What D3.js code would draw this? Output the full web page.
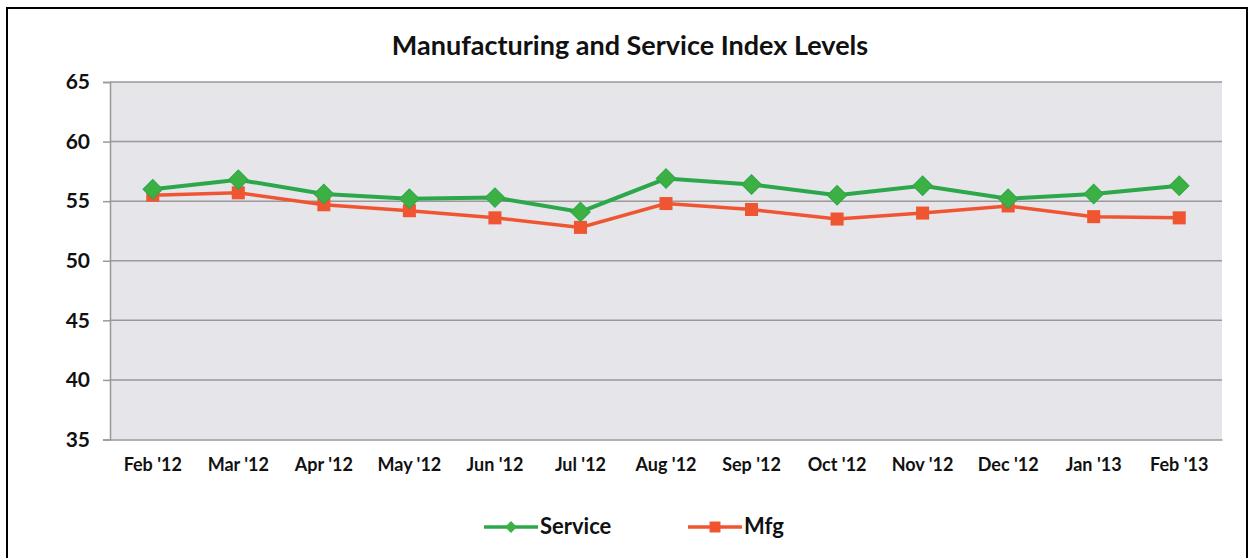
<!DOCTYPE html>
<html><head><meta charset="utf-8">
<script src="https://cdn.jsdelivr.net/npm/d3@7"></script>
<style>body{margin:0;background:#fff;}svg{display:block;}</style>
</head><body>
<svg id="c" width="1249" height="558"></svg>
<script>
const categories = ["Feb '12","Mar '12","Apr '12","May '12","Jun '12","Jul '12","Aug '12","Sep '12","Oct '12","Nov '12","Dec '12","Jan '13","Feb '13"];
const serviceValues = [56.0,56.8,55.6,55.2,55.3,54.1,56.9,56.4,55.5,56.3,55.2,55.6,56.3];
const mfgValues = [55.5,55.7,54.7,54.2,53.6,52.8,54.8,54.3,53.5,54.0,54.6,53.7,53.6];
const yTicks = [35,40,45,50,55,60,65];
const seriesNames = ["Service","Mfg"];

const svg = d3.select("#c");
const font = "Lato, 'Open Sans', sans-serif";
const m = {l:110, r:1222, t:82, b:439.5};

svg.append("rect").attr("x",7).attr("y",8).attr("width",1240).attr("height",560)
  .attr("fill","none").attr("stroke","#000").attr("stroke-width",2);

svg.append("text").attr("x",630).attr("y",55).attr("text-anchor","middle")
  .attr("font-family",font).attr("font-weight","bold").attr("font-size",27)
  .attr("fill","#111").text("Manufacturing and Service Index Levels");

const x = d3.scaleBand().domain(categories).range([m.l,m.r]);
const y = d3.scaleLinear().domain([35,65]).range([m.b,m.t]);

svg.append("rect").attr("x",m.l).attr("y",m.t).attr("width",m.r-m.l).attr("height",m.b-m.t).attr("fill","#e5e5ea");

const ya = svg.append("g").attr("transform",`translate(${m.l},0)`)
  .call(d3.axisLeft(y).tickValues(yTicks).tickSize(7).tickPadding(13));
ya.select(".domain").attr("stroke","#999").attr("stroke-width",1.5);
ya.selectAll(".tick line").attr("stroke","#999").attr("stroke-width",1.5);
ya.selectAll(".tick text").attr("font-family",font).attr("font-weight","bold").attr("font-size",21).attr("fill","#111");

svg.append("g").selectAll("line").data(yTicks.filter(d=>d>35)).join("line")
  .attr("x1",m.l).attr("x2",m.r).attr("y1",d=>y(d)).attr("y2",d=>y(d))
  .attr("stroke","#999").attr("stroke-width",1.5);

const xa = svg.append("g").attr("transform",`translate(0,${m.b})`)
  .call(d3.axisBottom(x).tickSize(0).tickPadding(19));
xa.select(".domain").attr("stroke","#999").attr("stroke-width",1.5);
xa.selectAll(".tick text").attr("font-family",font).attr("font-weight","bold").attr("font-size",18).attr("fill","#111");

const cx = d => x(d)+x.bandwidth()/2;
const green = "#2ca84a", greenM = "#3cb043", red = "#f05532";

const line = d3.line().x((d,i)=>cx(categories[i])).y(d=>y(d));
svg.append("path").datum(mfgValues).attr("d",line).attr("fill","none").attr("stroke",red).attr("stroke-width",3.5);
svg.append("path").datum(serviceValues).attr("d",line).attr("fill","none").attr("stroke",green).attr("stroke-width",4);

const sq = d3.symbol().type(d3.symbolSquare).size(170);
const dia = d3.symbol().type(d3.symbolSquare).size(190);
svg.append("g").selectAll("path").data(mfgValues).join("path")
  .attr("d",sq).attr("transform",(d,i)=>`translate(${cx(categories[i])},${y(d)})`).attr("fill",red);
svg.append("g").selectAll("path").data(serviceValues).join("path")
  .attr("d",dia).attr("transform",(d,i)=>`translate(${cx(categories[i])},${y(d)}) rotate(45)`).attr("fill",greenM).attr("stroke",green).attr("stroke-width",1);

// legend
const leg = [{name:seriesNames[0],x0:484,col:green,sym:d3.symbol().type(d3.symbolSquare).size(70),rot:45,fill:greenM},
             {name:seriesNames[1],x0:688,col:red,sym:d3.symbol().type(d3.symbolSquare).size(120),rot:0,fill:red}];
const lg = svg.append("g").selectAll("g").data(leg).join("g");
lg.append("line").attr("x1",d=>d.x0).attr("x2",d=>d.x0+54).attr("y1",527).attr("y2",527).attr("stroke",d=>d.col).attr("stroke-width",3.5);
lg.append("path").attr("d",d=>d.sym()).attr("transform",d=>`translate(${d.x0+27},527) rotate(${d.rot})`).attr("fill",d=>d.fill);
lg.append("text").attr("x",d=>d.x0+56).attr("y",534).attr("font-family",font).attr("font-weight","bold").attr("font-size",22).attr("fill","#111").text(d=>d.name);
</script>
</body></html>
